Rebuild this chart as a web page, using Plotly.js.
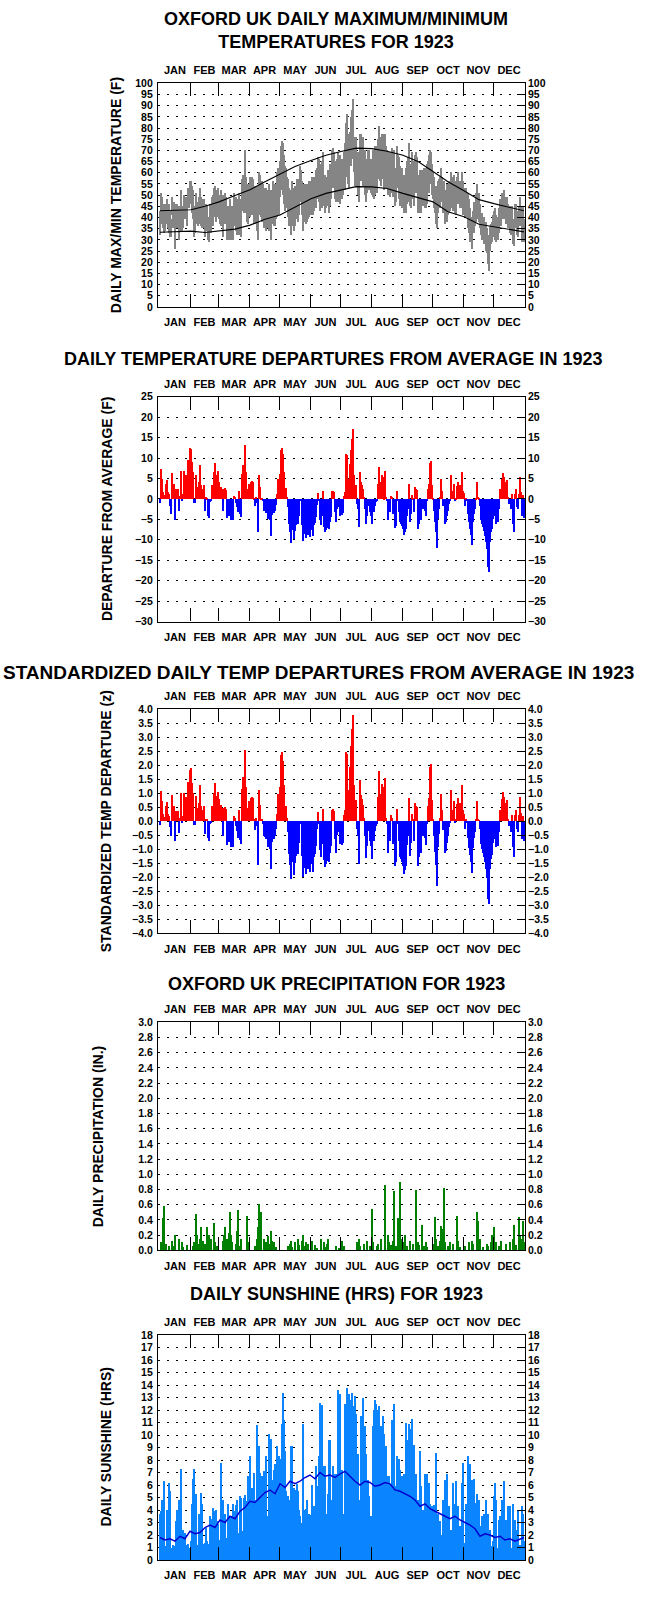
<!DOCTYPE html>
<html><head><meta charset="utf-8">
<script src="https://cdn.plot.ly/plotly-3.0.1.min.js"></script>
<style>html,body{margin:0;padding:0;background:#fff;}#chart{width:668px;height:1598px;}</style>
</head><body><div id="chart"></div>
<script>
const MONTHS = ['JAN','FEB','MAR','APR','MAY','JUN','JUL','AUG','SEP','OCT','NOV','DEC'];
const MONTH_START = [0,31,59,90,120,151,181,212,243,273,304,334,365];

const TMAX = [43,51,49,44,46,43,46,48,45,46,
43,39,49,45,47,40,46,46,45,41,
45,52,42,45,50,49,49,45,53,52,
56,56,54,52,45,43,51,47,45,49,
53,49,48,45,48,41,46,45,40,40,
46,46,49,50,53,54,51,52,53,50,
49,52,50,46,50,51,49,42,45,44,
48,44,45,45,51,49,49,48,46,51,
48,47,57,59,58,70,58,52,55,54,
58,56,58,57,54,50,54,54,43,60,
59,55,56,55,53,51,53,52,49,55,
52,50,52,56,55,55,55,60,62,60,
65,72,74,73,68,63,62,58,57,53,
52,52,56,53,52,54,54,57,55,57,
63,61,56,55,55,55,53,55,53,56,
55,56,58,55,58,58,61,62,67,66,
64,58,65,69,58,59,58,58,61,61,
64,62,70,71,69,65,61,66,69,66,
68,64,66,65,69,73,82,86,77,75,
78,85,88,93,76,76,76,68,69,63,
77,77,75,76,70,70,66,66,70,70,
66,66,63,70,70,72,72,72,75,81,
76,74,77,77,72,77,72,70,64,69,
66,69,71,65,70,62,61,72,68,67,
63,60,62,59,59,58,62,65,67,73,
59,64,69,65,64,68,69,67,58,59,
61,59,61,61,62,62,59,64,65,68,
70,69,64,60,58,54,54,48,56,57,
58,62,58,56,56,52,51,55,54,56,
54,60,56,58,59,54,56,58,60,56,
56,54,60,56,53,50,53,51,51,48,
44,40,40,43,47,46,51,55,49,51,
46,42,42,40,40,38,38,35,31,32,
36,37,38,41,43,44,41,40,40,44,
48,45,51,51,52,49,48,49,46,43,
45,42,45,39,36,46,46,43,43,45,
49,45,41,45,39];

const TMIN = [32,40,37,35,33,34,38,37,35,33,
31,31,41,35,38,26,36,35,37,30,
34,39,34,35,41,39,40,36,44,44,
47,46,42,39,31,33,38,37,36,37,
42,36,35,35,38,31,34,34,30,29,
33,33,38,36,40,43,38,40,41,39,
37,36,38,31,37,37,38,30,31,30,
34,30,32,30,36,36,34,32,32,38,
32,31,43,46,42,44,42,38,37,41,
40,43,41,42,37,37,38,34,30,41,
41,40,38,38,35,37,34,37,35,34,
35,30,37,38,36,36,39,40,45,41,
49,53,52,50,46,43,44,44,40,36,
37,32,36,37,34,36,39,39,38,41,
47,47,41,34,38,40,37,38,39,40,
41,43,41,41,43,44,44,48,50,47,
43,46,44,52,45,42,44,45,45,42,
45,48,54,53,54,48,47,49,47,50,
46,51,48,50,55,52,62,58,55,53,
63,63,66,66,60,54,55,54,50,47,
62,56,57,54,56,50,47,51,52,53,
52,51,50,49,48,50,51,51,57,59,
56,54,58,57,52,60,53,53,50,52,
49,54,51,49,49,45,47,53,53,48,
45,46,44,45,42,44,42,46,47,53,
45,44,48,50,45,54,51,53,42,44,
42,42,47,45,49,44,44,46,51,51,
55,56,50,48,44,42,37,35,42,45,
44,49,47,42,44,37,39,38,41,42,
43,48,44,43,45,42,41,46,46,46,
44,44,46,41,43,40,40,41,35,33,
29,30,26,33,33,36,38,41,39,38,
35,32,30,30,28,28,25,24,19,16,
25,28,29,31,31,30,29,31,30,33,
37,36,39,42,39,40,37,40,35,35,
33,32,36,28,27,35,38,32,31,36,
39,36,29,34,29];

const NORM_DAY = [0,15,31,45,59,75,90,105,120,135,151,166,181,196,212,227,243,258,273,288,304,319,334,349,364];
const NORM_MAX = [43.0,43.2,43.5,45.0,47.0,49.8,52.4,56.0,59.5,62.8,65.5,67.8,69.5,71.0,70.8,69.6,67.8,65.0,60.6,56.0,52.0,48.0,46.2,44.6,43.0];
const NORM_MIN = [33.4,33.8,33.9,33.3,33.9,34.8,36.6,39.2,41.1,44.6,48.4,50.8,52.2,53.8,53.7,53.0,50.8,48.8,47.0,42.6,40.3,37.0,35.8,34.8,33.6];

const DEP = [-1,7.3,5,1.7,1,0.5,3.8,4.6,1.7,1.2,
-1.6,-3.6,6.5,1.6,3.8,-5,2.5,1.7,2.5,-3,
0.8,7,-0.5,1.2,7,5,5.8,1.5,9.5,9.3,
12.5,12.4,9,6.6,-1,-1,5.8,3,1.7,4.3,
8.4,3.4,2.5,0.9,3.4,-3,0.5,0.3,-4,-4.7,
-0.7,-0.5,3.4,3,6.6,8.9,4.2,5.8,6.8,4.3,
1.9,3,2.6,-2.8,2.5,2.7,2.3,-4.7,-3.2,-4,
-1.2,-5,-3.8,-5,0.9,0.5,-1,-2,-3.2,2.1,
-3.6,-4.4,6.2,8.4,6.5,13.2,6.6,1.7,2.5,3.8,
3.8,4.2,4.5,4.3,0.3,-1.6,0.5,-1,-8.1,5.8,
3,0.3,0.2,-0.5,-2.8,-3,-3.4,-2.4,-4.8,-2.2,
-5.2,-8.9,-3.9,-2.2,-3.4,-2.8,-1.5,1.3,5,2,
6.2,12,12.5,11,6.6,2.5,2.8,0.5,-2,-6,
-8,-10.6,-6.5,-7.5,-9.8,-7.7,-6.3,-5,-6,-4,
-0.3,-0.5,-6.3,-10.2,-8.5,-7,-9.6,-8,-8.8,-6.7,
-9.3,-7.2,-7.5,-8.9,-6.3,-5.8,-4.4,-1.4,1.6,-0.5,
-5,-6.3,-4,2.1,-6.9,-8,-7.5,-7,-5.5,-7.2,
-5.7,-4.4,1.9,2.1,1.7,-3.2,-5.7,-2.4,-2,-1.8,
-4,-3.4,-3.9,-3.5,0.9,1.7,11.1,10.7,5,3.1,
8.7,12,14.8,17.1,5.8,3.4,3.4,-1.2,-2.4,-6.9,
6.6,4.2,3.5,2.5,0.5,-2.4,-6,-4,-1.6,-0.8,
-3.2,-4,-6,-2.8,-3.2,-1.6,-0.8,-0.5,3.8,7.9,
4.3,2.5,5.8,5.4,0.3,6.8,0.5,-0.5,-5,-1,
-3.2,0.9,0.5,-3.6,-1,-7.1,-6.5,1.9,-0.5,-3.2,
-5.7,-6,-6.5,-7.3,-8.8,-8,-7.3,-4,-2.4,3.8,
-5.7,-3.6,1.1,0.3,-3.2,3,2.5,2.3,-7.3,-6,
-4,-5.2,-2,-2.4,-0.5,-2.8,-4,-0.5,2.4,3.8,
8.9,9.3,3.4,0.3,-2.8,-5.7,-8.1,-12,-4.8,-2.4,
0.5,5,2.1,-1.6,-0.6,-6,-5.5,-4,-2.8,-1.2,
-0.3,5.8,1.3,2.1,3.8,-0.4,0.3,3.2,4.3,2.5,
3.4,2.5,6.6,2.1,1.5,-1.6,0.3,-0.5,-3.6,-5.7,
-7.3,-8.8,-11.2,-5.7,-3.6,-2.4,0.3,4.2,0.5,0.2,
-1.6,-5,-6,-6.9,-7.7,-8.9,-10.4,-12.2,-16.7,-17.8,
-10.4,-8.1,-7.3,-4.8,-4,-4,-6,-5.5,-5.7,-2.4,
2.4,0.5,5,6.5,5.4,4.2,2.1,4.8,0.5,-1.2,
-0.3,-2.4,1.3,-6,-8.1,1.3,2.5,-1.9,-2.4,1.3,
5.4,1.7,-4,1.1,-4.5];

const ZDEP = [-0.14,1.06,0.72,0.25,0.14,0.07,0.55,0.67,0.25,0.17,
-0.23,-0.52,0.94,0.23,0.55,-0.72,0.36,0.25,0.36,-0.43,
0.12,1.01,-0.07,0.17,1.01,0.72,0.84,0.22,1.38,1.35,
1.81,1.88,1.36,1.0,-0.15,-0.15,0.88,0.45,0.26,0.65,
1.27,0.52,0.38,0.14,0.52,-0.45,0.08,0.05,-0.61,-0.71,
-0.11,-0.08,0.52,0.45,1.0,1.35,0.64,0.88,1.03,0.8,
0.35,0.56,0.48,-0.52,0.46,0.5,0.43,-0.87,-0.59,-0.74,
-0.22,-0.93,-0.7,-0.93,0.17,0.09,-0.19,-0.37,-0.59,0.39,
-0.67,-0.81,1.15,1.56,1.2,2.54,1.22,0.31,0.46,0.7,
0.73,0.81,0.87,0.83,0.06,-0.31,0.1,-0.19,-1.56,1.12,
0.58,0.06,0.04,-0.1,-0.54,-0.58,-0.65,-0.46,-0.92,-0.42,
-1.0,-1.71,-0.75,-0.42,-0.65,-0.54,-0.29,0.25,0.96,0.38,
1.22,2.35,2.45,2.16,1.29,0.49,0.55,0.1,-0.39,-1.18,
-1.57,-2.08,-1.27,-1.47,-1.92,-1.51,-1.24,-0.98,-1.18,-0.78,
-0.06,-0.1,-1.24,-2.0,-1.67,-1.37,-1.88,-1.57,-1.73,-1.31,
-1.82,-1.47,-1.53,-1.82,-1.29,-1.18,-0.9,-0.29,0.33,-0.1,
-1.02,-1.29,-0.82,0.43,-1.41,-1.63,-1.53,-1.43,-1.12,-1.47,
-1.16,-0.9,0.39,0.43,0.35,-0.65,-1.16,-0.49,-0.41,-0.37,
-0.82,-0.76,-0.87,-0.78,0.2,0.38,2.47,2.38,1.11,0.69,
1.93,2.67,3.29,3.8,1.29,0.76,0.76,-0.27,-0.53,-1.53,
1.47,0.93,0.78,0.56,0.11,-0.53,-1.33,-0.89,-0.36,-0.18,
-0.71,-0.89,-1.36,-0.64,-0.73,-0.36,-0.18,-0.11,0.86,1.8,
0.98,0.57,1.32,1.23,0.07,1.55,0.11,-0.11,-1.14,-0.23,
-0.73,0.2,0.11,-0.82,-0.23,-1.61,-1.48,0.43,-0.11,-0.73,
-1.3,-1.36,-1.48,-1.59,-1.91,-1.74,-1.59,-0.87,-0.52,0.83,
-1.24,-0.78,0.24,0.07,-0.7,0.65,0.54,0.5,-1.59,-1.3,
-0.87,-1.13,-0.43,-0.52,-0.11,-0.61,-0.87,-0.11,0.52,0.83,
1.93,2.02,0.74,0.06,-0.54,-1.1,-1.56,-2.31,-0.92,-0.46,
0.1,0.96,0.4,-0.31,-0.12,-1.15,-1.06,-0.77,-0.54,-0.23,
-0.06,1.12,0.25,0.4,0.73,-0.08,0.06,0.62,0.83,0.48,
0.65,0.48,1.27,0.4,0.25,-0.27,0.05,-0.08,-0.6,-0.95,
-1.22,-1.47,-1.87,-0.95,-0.6,-0.4,0.05,0.7,0.08,0.03,
-0.27,-0.83,-1.0,-1.15,-1.28,-1.48,-1.73,-2.03,-2.78,-2.97,
-1.73,-1.35,-1.22,-0.8,-0.63,-0.63,-0.94,-0.86,-0.89,-0.38,
0.38,0.08,0.78,1.02,0.84,0.66,0.33,0.75,0.08,-0.19,
-0.05,-0.38,0.2,-0.94,-1.27,0.2,0.39,-0.3,-0.38,0.2,
0.84,0.27,-0.63,0.17,-0.7];

const RAIN_DAY = [1,3,4,6,9,12,13,15,19,22,23,27,
33,34,36,37,38,40,41,43,45,47,48,49,50,51,54,55,57,
63,64,65,67,68,69,70,71,72,76,77,78,79,81,87,88,
95,97,98,99,100,101,104,106,108,109,111,112,113,114,116,
128,130,131,132,135,138,139,142,143,144,146,147,148,
151,152,155,157,161,164,166,167,168,176,179,
181,182,184,197,199,200,204,207,210,
212,213,217,218,221,225,228,229,231,233,234,236,238,240,241,
243,245,247,250,253,256,258,259,262,264,266,267,
274,275,276,278,280,281,282,283,284,285,288,290,293,297,298,300,
305,309,312,313,317,318,320,323,327,328,331,332,
334,336,339,341,346,350,353,354,356,359,360,362,363,364];
const RAIN_IN = [0.1,0.42,0.58,0.08,0.05,0.12,0.05,0.2,0.15,0.1,0.04,0.06,
0.05,0.1,0.47,0.2,0.08,0.15,0.3,0.12,0.08,0.3,0.18,0.2,0.1,0.15,0.35,0.1,0.05,
0.12,0.2,0.3,0.15,0.1,0.22,0.5,0.2,0.1,0.08,0.25,0.52,0.05,0.15,0.45,0.1,
0.05,0.15,0.3,0.6,0.2,0.5,0.15,0.1,0.18,0.08,0.25,0.12,0.05,0.1,0.04,
0.05,0.08,0.12,0.04,0.1,0.15,0.06,0.12,0.2,0.05,0.1,0.06,0.08,
0.05,0.12,0.06,0.03,0.15,0.1,0.04,0.08,0.15,0.05,0.03,
0.1,0.12,0.05,0.1,0.15,0.05,0.08,0.12,0.05,
0.54,0.1,0.05,0.08,0.15,0.86,0.2,0.1,0.06,0.12,0.78,0.05,0.42,0.89,0.15,
0.1,0.2,0.05,0.12,0.08,0.79,0.1,0.06,0.33,0.05,0.1,0.04,
0.08,0.43,0.15,0.05,0.12,0.32,0.2,0.27,0.82,0.1,0.05,0.1,0.08,0.45,0.12,0.04,
0.05,0.1,0.12,0.08,0.5,0.38,0.15,0.04,0.08,0.05,0.1,0.2,
0.3,0.1,0.05,0.12,0.08,0.1,0.15,0.33,0.06,0.44,0.2,0.15,0.38,0.1];

const SUN = [3.7,3.9,4.8,1.0,6.3,0.9,1.1,4.0,2.7,6.2,
5.5,1.0,0.6,1.2,1.1,0.8,3.1,4.0,1.2,4.8,
3.5,7.3,1.0,2.4,1.3,2.2,0.8,1.2,1.3,1.0,
0.7,1.5,4.5,6.5,7.3,1.4,5.3,1.2,0.8,3.7,
1.1,5.4,4.5,1.3,0.9,1.4,2.6,1.5,1.0,1.3,
3.5,3.3,1.6,4.2,3.9,1.2,4.0,3.1,2.9,1.3,
1.6,7.8,1.5,4.8,2.0,3.7,1.4,1.8,4.5,3.5,
2.2,3.5,1.5,4.5,3.9,2.0,4.4,4.8,2.2,1.6,
5.1,5.0,2.3,1.8,5.0,5.2,4.7,2.6,6.7,2.2,
8.3,2.0,5.8,3.0,7.0,2.5,4.8,10.8,1.8,9.1,
7.0,3.2,6.7,5.6,7.1,2.6,8.3,3.5,2.0,10.1,
4.0,9.7,3.0,6.4,7.2,7.7,3.0,9.1,4.5,8.3,
3.6,8.1,10.9,13.4,11.2,8.7,5.5,3.0,5.1,4.8,
3.5,9.1,9.1,3.5,5.8,5.6,3.2,6.1,5.5,4.0,
3.5,2.5,3.0,10.9,4.0,3.5,4.1,4.8,3.0,3.7,
3.6,2.8,6.0,3.5,4.3,3.0,7.5,3.8,5.9,8.3,
12.6,3.2,12.4,7.5,3.0,7.5,3.7,3.0,5.3,9.6,
9.6,3.5,4.8,7.5,3.2,6.9,3.0,6.9,13.6,4.0,
13.3,3.2,7.2,3.7,2.8,12.5,12.0,13.8,12.3,13.3,
11.0,12.8,13.4,12.3,9.0,13.1,11.7,4.0,8.5,4.8,
4.0,11.5,6.8,13.0,4.5,10.7,8.5,4.5,6.4,5.1,
3.5,3.5,2.5,10.7,12.0,12.8,12.5,12.0,8.0,12.3,
10.4,10.7,9.0,11.5,10.1,6.0,9.1,6.7,4.0,6.7,
6.0,4.2,11.2,4.0,12.5,5.9,3.5,8.3,4.0,8.1,
7.2,3.5,6.7,2.8,6.9,3.0,11.0,9.3,9.6,10.9,
3.5,10.5,11.3,4.0,9.2,3.0,6.9,2.5,4.8,3.0,
8.7,5.9,3.0,4.0,2.5,6.9,3.2,6.9,2.5,6.2,
4.5,3.0,4.3,2.0,4.4,2.2,8.6,2.5,3.7,1.8,
3.1,2.0,1.5,4.8,2.0,6.4,1.6,6.9,2.0,4.3,
1.5,2.4,1.8,6.2,4.5,1.5,6.3,1.8,4.3,1.2,
2.7,1.5,6.2,7.8,1.4,0.9,4.5,1.5,8.3,7.7,
7.7,1.2,6.4,1.5,6.5,1.0,4.6,5.3,1.2,4.8,
2.7,0.8,3.5,1.2,3.7,0.6,4.8,1.2,3.7,1.0,
2.4,0.5,1.1,1.5,5.1,6.2,4.8,0.8,1.0,3.2,
3.5,0.9,4.8,1.0,6.3,0.7,3.2,1.0,4.3,0.5,
4.3,1.0,0.8,4.5,1.0,3.2,0.5,2.4,3.9,1.0,
1.2,0.6,4.3,3.7,1.5];

const SUN_AVG_DAY = [0,5,10,15,20,25,30,35,40,45,50,55,60,65,70,75,80,85,90,95,100,105,110,115,120,125,130,135,140,145,150,155,160,165,170,175,180,185,190,195,200,205,210,215,220,225,230,235,240,245,250,255,260,265,270,275,280,285,290,295,300,305,310,315,320,325,330,335,340,345,350,355,360,364];
const SUN_AVG = [1.8,1.6,1.7,1.5,1.9,1.7,2.3,2.1,2.2,2.6,2.8,2.6,3.2,3.0,3.5,3.3,3.9,4.2,4.7,4.6,5.0,5.4,5.6,5.3,6.1,5.8,6.3,6.1,6.3,6.6,6.8,6.5,7.0,6.7,6.8,6.6,6.9,7.1,6.7,6.3,6.0,6.3,6.2,5.9,6.0,6.2,6.1,5.6,5.5,5.3,5.1,4.8,4.3,4.5,4.1,3.9,3.7,3.5,3.3,3.5,3.2,3.0,2.8,2.5,1.9,2.1,2.0,1.8,1.9,1.6,1.7,1.5,1.7,1.8];

const TITLES = ['OXFORD UK DAILY MAXIMUM/MINIMUM<br>TEMPERATURES FOR 1923',
  'DAILY TEMPERATURE DEPARTURES FROM AVERAGE IN 1923',
  'STANDARDIZED DAILY TEMP DEPARTURES FROM AVERAGE IN 1923',
  'OXFORD UK PRECIPITATION FOR 1923',
  'DAILY SUNSHINE (HRS) FOR 1923'];
const YTITLES = ['DAILY MAX/MIN TEMPERATURE (F)','DEPARTURE FROM AVERAGE (F)',
  'STANDARDIZED TEMP DEPARTURE (z)','DAILY PRECIPITATION (IN.)','DAILY SUNSHINE (HRS)'];

// ---------- layout geometry (pixels) ----------
const W = 668, H = 1598;
const XL = 158, XR = 525;
const PANELS = [
  {top:83.3, bot:307, range:[0,100], dtick:5, fmt:'d', ytx:116, ttx:336, tty:31, tsize:18},
  {top:396.7, bot:621.5, range:[-30,25], dtick:5, fmt:'d', ytx:107, ttx:333, tty:359, tsize:18},
  {top:709.3, bot:933.3, range:[-4,4], dtick:0.5, fmt:'.1f', ytx:106, ttx:318, tty:672, tsize:19},
  {top:1022.3, bot:1250.3, range:[0,3], dtick:0.2, fmt:'.1f', ytx:98, ttx:337, tty:984, tsize:18},
  {top:1335, bot:1560, range:[0,18], dtick:1, fmt:'d', ytx:105, ttx:336, tty:1294, tsize:18}
];
const XRANGE = [-1.5, 365.5];
const FONT_B = '"Liberation Sans",Arial,Helvetica,sans-serif';

const yfrac = px => 1 - px / H;
const xId = n => n === 1 ? 'x' : 'x' + n;
const yId = n => n === 1 ? 'y' : 'y' + n;
const xKey = n => n === 1 ? 'xaxis' : 'xaxis' + n;
const yKey = n => n === 1 ? 'yaxis' : 'yaxis' + n;

const dayX = DEP.map((_, i) => i + 0.5);
const monthMid = MONTHS.map((_, i) => (MONTH_START[i] + MONTH_START[i + 1]) / 2);
const monthEdges = MONTH_START.slice(1, 12);

const traces = [];
// Panel 1: daily max/min range and normals
traces.push({type:'bar', x:dayX, base:TMIN, y:TMAX.map((v, i) => v - TMIN[i]), width:1,
  marker:{color:'#858585', line:{width:0}}, xaxis:'x', yaxis:'y', hoverinfo:'skip'});
traces.push({type:'scatter', mode:'lines', x:NORM_DAY.map(d => d + 0.5), y:NORM_MAX,
  line:{color:'#000', width:1.1}, xaxis:'x', yaxis:'y', hoverinfo:'skip'});
traces.push({type:'scatter', mode:'lines', x:NORM_DAY.map(d => d + 0.5), y:NORM_MIN,
  line:{color:'#000', width:1.1}, xaxis:'x', yaxis:'y', hoverinfo:'skip'});
// Panel 2: departures
traces.push({type:'bar', x:dayX, y:DEP, width:1,
  marker:{color:DEP.map(v => v >= 0 ? '#ff0000' : '#0000ff'), line:{width:0}},
  xaxis:'x2', yaxis:'y2', hoverinfo:'skip'});
// Panel 3: standardized departures
traces.push({type:'bar', x:dayX, y:ZDEP, width:1,
  marker:{color:ZDEP.map(v => v >= 0 ? '#ff0000' : '#0000ff'), line:{width:0}},
  xaxis:'x3', yaxis:'y3', hoverinfo:'skip'});
// Panel 4: precipitation
traces.push({type:'bar', x:RAIN_DAY.map(d => d + 0.5), y:RAIN_IN, width:1,
  marker:{color:'#008000', line:{width:0}}, xaxis:'x4', yaxis:'y4', hoverinfo:'skip'});
// Panel 5: sunshine
traces.push({type:'bar', x:dayX, y:SUN, width:1,
  marker:{color:'#0a84ff', line:{width:0}}, xaxis:'x5', yaxis:'y5', hoverinfo:'skip'});
traces.push({type:'scatter', mode:'lines', x:SUN_AVG_DAY.map(d => d + 0.5), y:SUN_AVG,
  line:{color:'#0000d0', width:1.4}, xaxis:'x5', yaxis:'y5', hoverinfo:'skip'});

const tickFont = {family:FONT_B, size:10.5, color:'#000', weight:'bold'};
const monthFont = {family:FONT_B, size:11, color:'#000', weight:'bold'};
const layout = {
  width:W, height:H, margin:{l:0, r:0, t:0, b:0},
  paper_bgcolor:'#fff', plot_bgcolor:'#fff', showlegend:false,
  bargap:0, barmode:'overlay', annotations:[], hovermode:false
};

PANELS.forEach((P, k) => {
  const n = k + 1, o = k + 6;
  const minor = {tickmode:'array', tickvals:monthEdges, ticks:'inside', ticklen:13,
    tickwidth:1.3, tickcolor:'#000', showgrid:false};
  layout[xKey(n)] = {domain:[XL / W, XR / W], range:XRANGE, anchor:yId(n),
    showline:true, linecolor:'#000', linewidth:1.3, mirror:true,
    tickmode:'array', tickvals:monthMid, ticktext:MONTHS, ticks:'', tickfont:monthFont,
    ticklabelstandoff:5,
    showgrid:false, zeroline:false, minor:minor, fixedrange:true};
  layout[xKey(o)] = {overlaying:xId(n), anchor:yId(n), side:'top', range:XRANGE,
    showline:false, tickmode:'array', tickvals:monthMid, ticktext:MONTHS, ticks:'',
    tickfont:monthFont, ticklabelstandoff:6,
    showgrid:false, zeroline:false, minor:minor, fixedrange:true};
  layout[yKey(n)] = {domain:[yfrac(P.bot), yfrac(P.top)], range:P.range, anchor:xId(n),
    tickmode:'linear', tick0:P.range[0], dtick:P.dtick, tickformat:P.fmt, ticks:'',
    showline:true, linecolor:'#000', linewidth:1.3, mirror:true,
    showgrid:true, gridcolor:'#000', gridwidth:1, griddash:'1.5px,7.5px',
    zeroline:false, tickfont:tickFont, ticklabelstandoff:2, fixedrange:true};
  layout[yKey(o)] = {overlaying:yId(n), anchor:xId(n), side:'right', range:P.range,
    tickmode:'linear', tick0:P.range[0], dtick:P.dtick, tickformat:P.fmt,
    ticks:'inside', ticklen:8, tickwidth:1.3, tickcolor:'#000',
    showline:false, showgrid:false, zeroline:false, tickfont:tickFont,
    ticklabelstandoff:2, fixedrange:true};
  // invisible anchor trace so the overlay axes are drawn
  traces.push({type:'scatter', mode:'markers', x:[MONTH_START[0]], y:[P.range[0]],
    marker:{size:1, opacity:0}, xaxis:xId(o), yaxis:yId(o), hoverinfo:'skip'});

  layout.annotations.push({text:TITLES[k], xref:'paper', yref:'paper',
    x:P.ttx / W, y:yfrac(P.tty), xanchor:'center', yanchor:'middle', showarrow:false,
    font:{family:FONT_B, size:P.tsize, color:'#000', weight:'bold'}});
  layout.annotations.push({text:YTITLES[k], xref:'paper', yref:'paper',
    x:P.ytx / W, y:yfrac((P.top + P.bot) / 2), xanchor:'center', yanchor:'middle',
    textangle:-90, showarrow:false,
    font:{family:FONT_B, size:14, color:'#000', weight:'bold'}});
});

Plotly.newPlot('chart', traces, layout, {displayModeBar:false});
</script>
</body></html>
